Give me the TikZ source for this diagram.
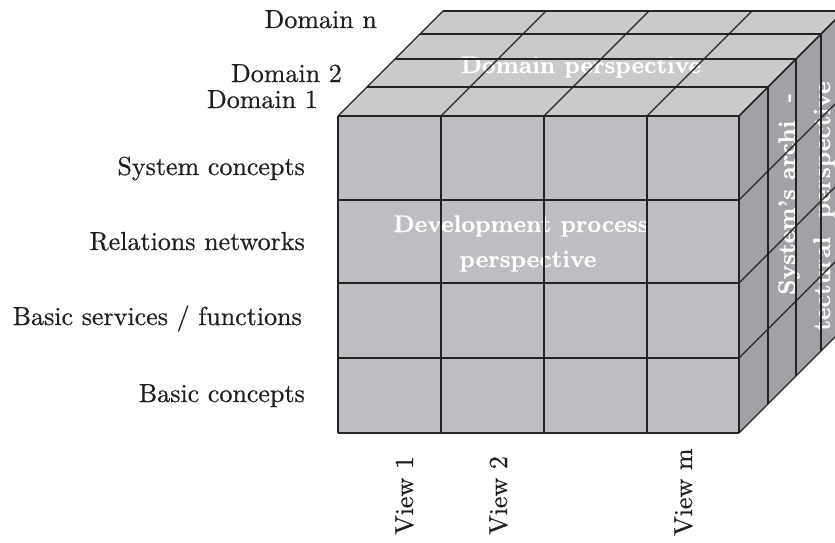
\documentclass[tikz,border=0pt]{standalone}
\usepackage{fontspec}
\setmainfont{lmroman10-regular.otf}[BoldFont=lmroman10-bold.otf,Ligatures=TeX]
\newfontfamily\labfont{lmroman10-regular.otf}[Ligatures=TeX,FakeBold=0.6]
\newfontfamily\persfont{lmroman10-bold.otf}[Ligatures=TeX,FakeBold=0.5]
\begin{document}
\begin{tikzpicture}[x=1pt,y=-1pt,line join=round]
\definecolor{topc}{RGB}{201,202,204}
\definecolor{frontc}{RGB}{189,190,193}
\definecolor{sidec}{RGB}{161,162,166}
\definecolor{edgec}{RGB}{35,35,35}
\tikzset{
  gridline/.style={draw=edgec,line width=1.1pt},
  lab/.style={font=\labfont\fontsize{26}{30}\selectfont,inner sep=0pt,text=black!88},
  pers/.style={font=\persfont\fontsize{24}{30}\selectfont,text=white,inner sep=0pt}
}
\useasboundingbox (0,0) rectangle (835,543);
\clip (0,0) rectangle (835,543);
% faces
\fill[topc] (338,116) -- (739,116) -- (844,11) -- (443,11) -- cycle;
\fill[frontc] (338,116) rectangle (739,433);
\fill[sidec] (739,116) -- (844,11) -- (844,328) -- (739,433) -- cycle;
% texts on faces
\node[pers,anchor=base] (dp) at (581,73) {Domain perspective};
\node[pers,anchor=base] (dev1) at (521,232) {Development process};
\node[pers,anchor=base] (dev2) at (528,267) {perspective};
\node[pers,rotate=90,anchor=base west] (sa1) at (795,295) {System's archi\ \ -};
\node[pers,rotate=90,anchor=base west] (sa2) at (830,331) {tectural\ \ perspective};
% front grid
\foreach \y in {116,200,283,358,433} \draw[gridline] (338,\y) -- (739,\y);
\foreach \x in {338,441,544,647,739} \draw[gridline] (\x,116) -- (\x,433);
% top grid
\foreach \d in {29,57,82,105} \draw[gridline] (338+\d,116-\d) -- (739+\d,116-\d);
\foreach \x in {338,441,544,647,739} \draw[gridline] (\x,116) -- (\x+105,11);
% right grid
\foreach \d in {29,57,82,105} \draw[gridline] (739+\d,116-\d) -- (739+\d,433-\d);
\foreach \y in {116,200,283,358,433} \draw[gridline] (739,\y) -- (844,\y-105);
% labels
\node[lab,anchor=base east] (dn) at (377,28) {Domain n};
\node[lab,anchor=base east] (d2) at (342,82) {Domain 2};
\node[lab,anchor=base east] (d1) at (318,108) {Domain 1};
\node[lab,anchor=base east] (sc) at (305,175) {System concepts};
\node[lab,anchor=base east] (rn) at (305,250) {Relations networks};
\node[lab,anchor=base east] (bs) at (302,325) {Basic services / functions};
\node[lab,anchor=base east] (bc) at (305,402) {Basic concepts};
\node[lab,rotate=90,anchor=base west] (v1) at (413,535) {View 1};
\node[lab,rotate=90,anchor=base west] (v2) at (507,535) {View 2};
\node[lab,rotate=90,anchor=base west] (vm) at (692,536) {View m};
\end{tikzpicture}
\end{document}
